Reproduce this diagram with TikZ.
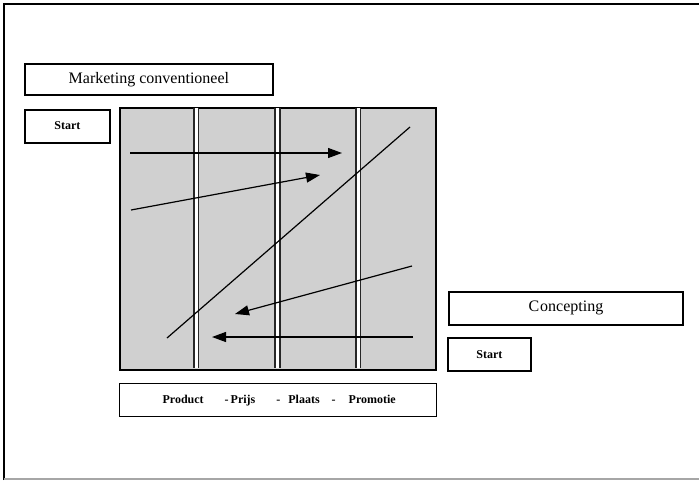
\documentclass[tikz,border=0pt]{standalone}
\usepackage{fontspec}
\setmainfont{Liberation Serif}
\usetikzlibrary{arrows.meta}
\definecolor{panelgray}{RGB}{208,208,208}
\begin{document}
\begin{tikzpicture}[x=1pt,y=-1pt,
  box/.style={draw=black, line width=1.8pt, fill=white, anchor=north west, inner sep=0pt,
    font=\fontsize{16}{16}\selectfont},
  startbox/.style={box, font=\bfseries\fontsize{12}{12}\selectfont},
  divider/.style={line width=1.6pt, black!85},
  flow/.style={line width=1.2pt, -{Triangle[length=14pt,width=10pt]}}]
\useasboundingbox (0,0) rectangle (699,480);
% outer frame
\draw[line width=1.5pt] (4,480) -- (4,4) -- (699,4);
\draw[gray!70, line width=1.5pt] (4,479) -- (699,479);
% boxes
\node[box, minimum width=248, minimum height=31] (mk) at (24,63) {Marketing conventioneel};
\node[startbox, minimum width=85, minimum height=33] (start1) at (24,109) {\raisebox{2pt}{Start}};
\node[box, fill=panelgray, line width=2pt, minimum width=316, minimum height=262] (panel) at (119,107) {};
\node[box, line width=1.4pt, minimum width=317, minimum height=33, font=\bfseries\fontsize{12}{12}\selectfont] (mix) at (119,383)
  {\hspace{2pt}Product\hspace{21pt}-\hspace{2pt}Prijs\hspace{21pt}-\hspace{8pt}Plaats\hspace{12pt}-\hspace{13pt}Promotie};
\node[box, minimum width=234, minimum height=33] (concept) at (448,291) {C\kern1pt oncepting};
\node[startbox, minimum width=83, minimum height=33] (start2) at (447,337) {Start};
% dividers (double lines)
\foreach \c in {196,277.5,358.3}{
  \fill[white] (\c-2.3,108) rectangle (\c+2.3,368);
  \draw[divider] (\c-2.3,108) -- (\c-2.3,368);
  \draw[divider] (\c+2.3,108) -- (\c+2.3,368);
}
% flows
\coordinate (a1s) at (130,153);
\coordinate (a1e) at (342,153);
\coordinate (a2s) at (131,210);
\coordinate (a2e) at (320,175);
\coordinate (ls) at (167,338);
\coordinate (le) at (410,127);
\coordinate (a3s) at (412,266);
\coordinate (a3e) at (235,314);
\coordinate (a4s) at (413,337);
\coordinate (a4e) at (212,337);
\draw[flow] (a1s) -- (a1e);
\draw[flow] (a2s) -- (a2e);
\draw[line width=1.2pt] (ls) -- (le);
\draw[flow] (a3s) -- (a3e);
\draw[flow] (a4s) -- (a4e);
\end{tikzpicture}
\end{document}
